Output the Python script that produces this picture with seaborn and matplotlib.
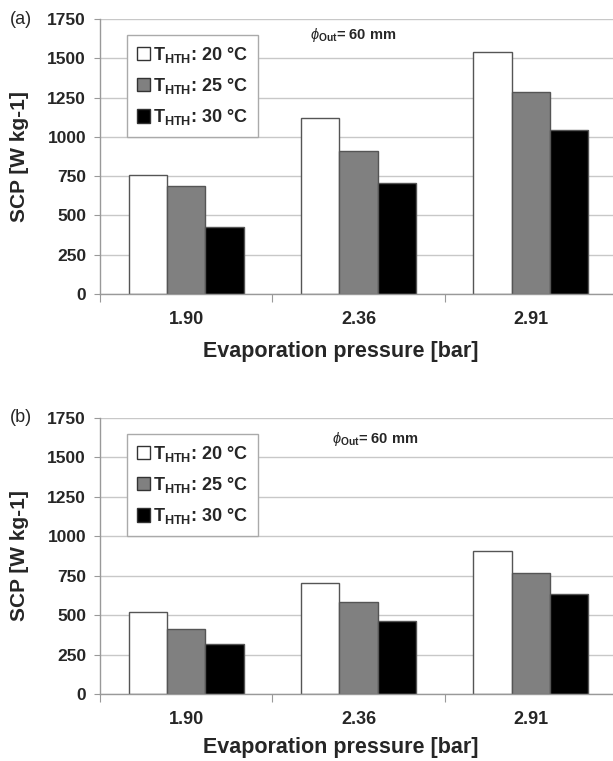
import matplotlib
matplotlib.use("Agg")
import matplotlib.pyplot as plt
import seaborn as sns
import pandas as pd

# ---- data ----
pressures = ["1.90", "2.36", "2.91"]
series_labels = [r"$\mathbf{T_{HTH}}$: 20 °C", r"$\mathbf{T_{HTH}}$: 25 °C", r"$\mathbf{T_{HTH}}$: 30 °C"]
scp_a_20 = [755, 1120, 1539]
scp_a_25 = [687, 907, 1284]
scp_a_30 = [426, 706, 1046]
scp_b_20 = [517, 702, 904]
scp_b_25 = [411, 586, 770]
scp_b_30 = [314, 466, 637]
y_ticks = [0, 250, 500, 750, 1000, 1250, 1500, 1750]
panel_labels = ["(a)", "(b)"]
note_text = r"$\phi_{\mathbf{Out}}$= 60 mm"
xlabel = "Evaporation pressure [bar]"
ylabel = "SCP [W kg-1]"

sns.set_theme(style="white")
plt.rcParams["font.family"] = ["Liberation Sans", "DejaVu Sans"]
plt.rcParams["mathtext.fontset"] = "custom"
plt.rcParams["mathtext.rm"] = "Liberation Sans:bold"
plt.rcParams["mathtext.bf"] = "Liberation Sans:bold"
plt.rcParams["mathtext.it"] = "Liberation Sans:italic"

colors = ["#ffffff", "#808080", "#000000"]

def make_df(s20, s25, s30):
    rows = []
    for lab, vals in zip(series_labels, [s20, s25, s30]):
        for p, v in zip(pressures, vals):
            rows.append({"pressure": p, "series": lab, "scp": v})
    return pd.DataFrame(rows)

dfs = [make_df(scp_a_20, scp_a_25, scp_a_30), make_df(scp_b_20, scp_b_25, scp_b_30)]

fig = plt.figure(figsize=(6.13, 7.61), dpi=100)
W, H = 613.0, 761.0
left_px, right_px = 100, 617
# (top_px, bottom_px, xlabel_center_px) for each panel
panel_px = [(19, 294, 351), (418, 694, 748)]
note_pos = [(0.49, 0.942), (0.532, 0.924)]

for i, (df, (top_px, bot_px, xl_px)) in enumerate(zip(dfs, panel_px)):
    hpx = bot_px - top_px
    wpx = right_px - left_px
    ax = fig.add_axes([left_px / W, 1 - bot_px / H, wpx / W, hpx / H])
    sns.barplot(data=df, x="pressure", y="scp", hue="series", order=pressures,
                hue_order=series_labels, palette=colors, width=0.667, gap=0,
                edgecolor="#555555", linewidth=1.0, saturation=1, ax=ax, legend=True)
    ax.set_ylim(0, 1750)
    ax.set_xlim(-0.5, 2.5)
    ax.set_yticks(y_ticks)
    ax.set_yticklabels([str(t) for t in y_ticks], fontsize=12.5, fontweight="bold")
    ax.set_xticks(range(len(pressures)))
    ax.set_xticklabels(pressures, fontsize=13, fontweight="bold")
    ax.set_xticks([-0.5, 0.5, 1.5, 2.5], minor=True)
    ax.tick_params(axis="x", which="major", length=0, pad=12)
    ax.tick_params(axis="x", which="minor", length=6, width=0.8, color="#999999", direction="out", bottom=True)
    ax.tick_params(axis="y", which="major", length=4, width=0.8, color="#999999", direction="out", left=True, pad=6)
    ax.grid(axis="y", color="#c8c8c8", linewidth=1.0)
    ax.set_axisbelow(True)
    for s in ["top", "right"]:
        ax.spines[s].set_visible(False)
    for s in ["left", "bottom"]:
        ax.spines[s].set_color("#999999")
        ax.spines[s].set_linewidth(1.0)
    ax.set_xlabel(xlabel, fontsize=15.5, fontweight="bold", va="center")
    ax.xaxis.set_label_coords((341 - left_px) / wpx, -(xl_px - bot_px) / hpx)
    ax.set_ylabel(ylabel, fontsize=15, fontweight="bold")
    ax.yaxis.set_label_coords(-(left_px - 29) / wpx, 0.5)

    h, l = ax.get_legend_handles_labels()
    leg = ax.legend(h, l, loc="upper left", bbox_to_anchor=((127 - left_px) / wpx, 0.942),
                    fancybox=False, frameon=True, edgecolor="#aaaaaa", framealpha=1,
                    prop={"size": 13, "weight": "bold"}, handlelength=0.75, handleheight=0.75,
                    handletextpad=0.15, labelspacing=0.62, borderpad=0.55, borderaxespad=0)
    leg.get_frame().set_linewidth(1.0)
    for p in leg.get_patches():
        p.set_edgecolor("#333333")

    ax.text(note_pos[i][0], note_pos[i][1], note_text, transform=ax.transAxes,
            ha="center", va="center", fontsize=10.5, fontweight="bold")
    fig.text(10 / W, 1 - top_px / H, panel_labels[i], fontsize=13, ha="left", va="center")

fig.savefig("out.png", dpi=100)
